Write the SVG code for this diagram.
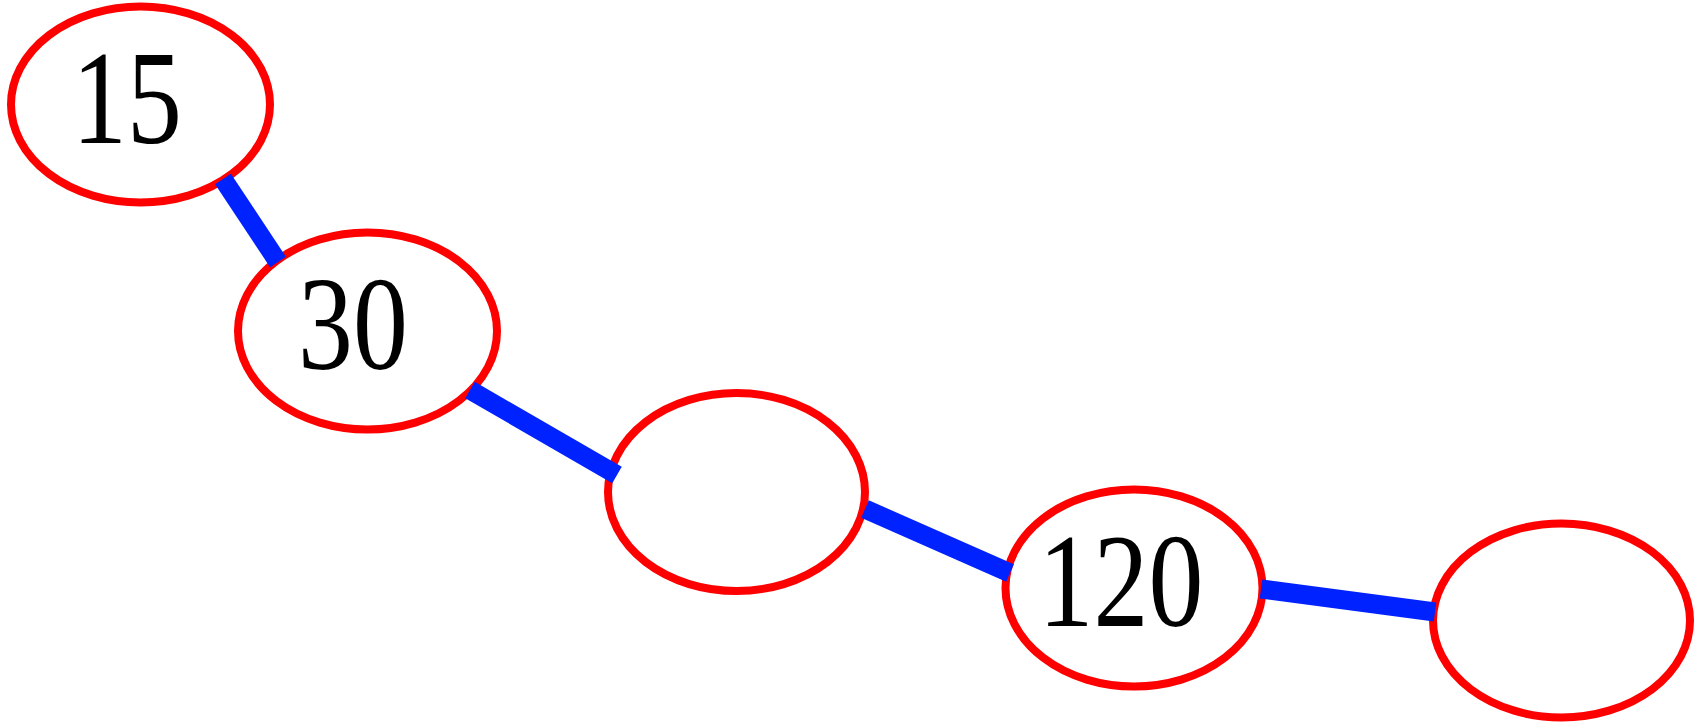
<svg xmlns="http://www.w3.org/2000/svg" width="1702" height="723" viewBox="0 0 1702 723">
<style>
.node ellipse{fill:#ffffff;stroke:#ff0000;stroke-width:8}
.node text{font-family:"Liberation Serif","Times New Roman",serif;font-size:134px;fill:#000;text-anchor:middle}
#connectors line{stroke:#0022ff;stroke-width:19;stroke-linecap:butt}
</style>
<rect width="1702" height="723" fill="#ffffff"/>
<g id="n15" class="node">
<ellipse cx="140.5" cy="104.5" rx="129.5" ry="98"/>
<text transform="translate(127,143) scale(0.82,1)">15</text>
</g>
<g id="n30" class="node">
<ellipse cx="367.5" cy="331" rx="129.5" ry="98.5"/>
<text transform="translate(353,369) scale(0.82,1)">30</text>
</g>
<g id="n60" class="node">
<ellipse cx="736.5" cy="492" rx="128.5" ry="99"/>
</g>
<g id="n120" class="node">
<ellipse cx="1134" cy="588" rx="128.5" ry="98.5"/>
<text transform="translate(1121,626) scale(0.82,1)">120</text>
</g>
<g id="n240" class="node">
<ellipse cx="1561.5" cy="620.5" rx="128.5" ry="97"/>
</g>
<g id="connectors">
<line x1="223" y1="179" x2="278" y2="262"/>
<line x1="470" y1="390" x2="617" y2="475"/>
<line x1="865" y1="509" x2="1010" y2="573"/>
<line x1="1261" y1="589" x2="1435" y2="612"/>
</g>
</svg>
